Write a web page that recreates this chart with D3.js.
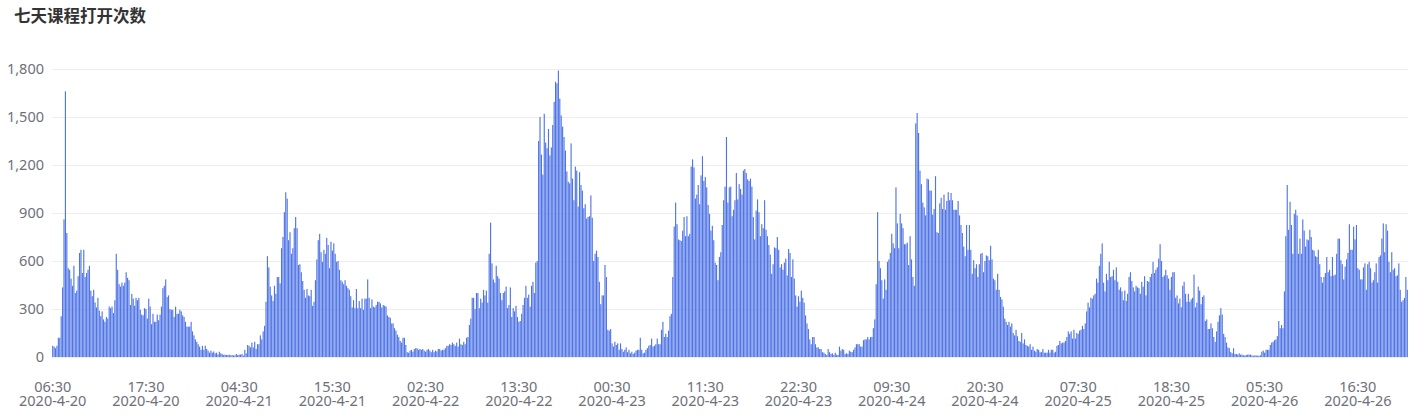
<!DOCTYPE html>
<html>
<head>
<meta charset="utf-8">
<script src="https://cdn.jsdelivr.net/npm/d3@7"></script>
<style>
  html, body { margin: 0; padding: 0; background: #fff; }
  svg { display: block; }
</style>
</head>
<body>
<svg id="chart" width="1409" height="416"></svg>
<script>
// ---- data ----
const chartTitle = "七天课程打开次数";
const startTime = "2020-04-20 06:30";   // first 10-minute slot
const slotMinutes = 10;
const yTicks = [0, 300, 600, 900, 1200, 1500, 1800];
const labelEvery = 66;                   // one axis label every 11 hours
const opens = [
  70,65,55,70,120,120,255,435,860,1660,
  775,555,545,490,445,570,400,415,505,650,
  670,525,670,500,525,545,570,415,380,420,
  340,310,370,290,255,285,235,220,250,240,
  315,305,315,275,355,645,545,455,440,465,
  445,465,530,495,480,325,395,365,320,370,
  355,370,295,265,260,305,300,240,365,315,
  205,270,220,220,265,230,265,315,430,445,
  485,375,385,300,295,295,250,315,270,270,
  295,285,260,250,220,190,190,190,220,160,
  135,110,95,80,65,45,70,45,70,50,
  40,27,40,27,35,23,27,15,33,23,
  19,12,15,12,12,15,10,12,10,10,
  19,12,15,15,19,8,45,23,75,70,
  60,90,60,95,50,80,80,135,110,160,
  195,345,630,560,440,385,350,445,395,500,
  500,460,680,750,905,1030,990,730,780,645,
  680,805,875,805,575,580,530,475,420,370,
  425,385,380,420,320,345,480,610,730,770,
  655,595,670,645,745,700,555,720,665,710,
  645,595,600,545,480,470,455,480,445,430,
  420,380,310,355,305,425,305,350,305,365,
  295,365,365,485,370,305,360,315,310,325,
  345,345,335,310,325,320,315,260,250,245,
  210,210,180,165,140,125,100,90,120,120,
  75,30,27,40,45,33,50,55,55,45,
  50,45,50,40,33,45,50,40,30,45,
  30,40,35,50,50,40,45,45,55,70,
  70,80,75,90,80,70,90,65,115,80,
  75,95,80,120,125,200,240,370,370,300,
  400,400,305,365,340,420,385,415,340,645,
  840,585,485,465,570,505,490,400,355,400,
  410,440,305,325,435,250,305,285,320,250,
  220,225,270,325,370,445,370,390,315,445,
  470,400,590,600,1350,1500,1265,1140,1520,1340,
  1305,1425,1260,1310,1450,1595,1720,1710,1790,1615,
  1510,1440,1375,1290,1160,1095,1085,1335,1115,980,
  1190,1165,940,1155,1075,1040,930,955,865,875,
  880,1010,870,600,645,665,625,470,330,385,
  385,575,500,170,165,175,85,65,95,75,
  85,45,85,50,33,45,60,30,45,23,
  33,19,27,40,45,45,120,45,23,27,
  45,55,70,75,115,65,70,80,115,80,
  80,170,220,125,145,125,165,255,270,500,
  815,965,830,735,730,725,790,875,755,880,
  755,770,1190,1235,1185,990,1015,1075,955,1135,
  1255,1100,1125,1060,950,895,790,820,730,590,
  575,480,625,655,825,980,1065,1375,965,1060,
  1065,880,920,980,1150,985,1080,1050,1015,1165,
  1175,1150,1110,1100,1115,1065,875,735,915,985,
  905,755,830,805,980,795,755,700,640,520,
  580,685,680,750,670,560,580,545,590,615,
  510,675,650,500,610,490,385,315,380,345,
  415,370,340,260,210,175,110,80,125,125,
  80,60,60,50,50,30,27,19,12,50,
  30,19,23,12,27,15,12,65,40,50,
  45,19,23,19,40,33,30,45,60,80,
  80,80,65,65,105,110,110,125,110,125,
  125,180,235,455,905,600,555,480,365,485,
  420,595,610,650,770,710,680,1060,835,680,
  895,835,805,705,705,715,575,755,610,500,
  445,1460,1525,1400,1165,1080,965,935,885,1115,
  1110,1040,1040,890,925,1130,780,775,960,995,
  925,1015,920,975,1030,980,1025,980,920,920,
  920,975,885,825,775,690,630,825,670,825,
  670,520,605,555,580,500,580,645,650,530,
  600,635,630,605,695,610,490,480,420,520,
  420,375,360,315,240,220,200,220,190,210,
  150,135,170,130,100,95,150,85,110,75,
  70,65,80,45,65,40,33,50,45,30,
  30,50,27,27,27,45,27,45,45,27,
  33,70,75,100,85,90,90,100,125,160,
  145,160,115,170,115,150,145,165,170,195,
  175,210,285,340,310,370,365,385,395,490,
  465,570,645,710,465,410,520,480,595,500,
  505,545,480,560,470,420,435,410,355,415,
  350,395,500,530,475,435,410,445,435,430,
  395,470,440,505,385,475,470,500,520,595,
  525,545,560,615,705,600,500,510,545,510,
  490,420,500,530,530,370,385,335,365,310,
  445,470,395,345,395,345,360,370,515,310,
  340,440,415,330,375,385,225,235,175,175,
  210,180,125,95,160,220,260,305,265,145,
  125,90,60,55,30,23,55,19,19,15,
  23,15,15,10,10,12,15,15,15,10,
  8,10,10,8,8,10,33,40,27,45,
  45,45,75,90,95,105,110,130,225,180,
  200,180,410,755,1075,795,970,825,645,895,
  920,885,645,740,645,860,790,690,735,730,
  795,750,670,665,630,625,670,580,500,465,
  500,525,625,530,545,505,625,510,515,645,
  740,740,605,580,485,565,610,650,830,670,
  670,815,735,825,555,545,485,485,560,585,
  420,580,595,555,465,480,530,585,465,625,
  635,740,835,655,830,790,595,530,655,545,
  555,505,510,585,420,345,355,370,500,420
];

// ---- categories (time slots) ----
const parse = d3.timeParse("%Y-%m-%d %H:%M");
const t0 = parse(startTime);
const slots = opens.map((v, i) => d3.timeMinute.offset(t0, i * slotMinutes));
const fmtTime = d3.timeFormat("%H:%M");
const fmtDate = d => `${d.getFullYear()}-${d.getMonth() + 1}-${d.getDate()}`;
const categories = slots.map(d => fmtTime(d) + "\n" + fmtDate(d));
const data = categories.map((c, i) => ({ cat: c, value: opens[i] }));

// ---- layout ----
const svg = d3.select("#chart");
const M = { left: 52, right: 1408, top: 69, bottom: 357 };

const x = d3.scaleBand()
  .domain(categories)
  .range([M.left, M.right])
  .paddingInner(0.2)
  .paddingOuter(0.1);

const y = d3.scaleLinear()
  .domain([yTicks[0], yTicks[yTicks.length - 1]])
  .range([M.bottom, M.top]);

// title
svg.append("text")
  .attr("x", 14)
  .attr("y", 22)
  .attr("font-family", "'Noto Sans CJK SC', 'Noto Sans', sans-serif")
  .attr("font-size", 16.5)
  .attr("font-weight", "bold")
  .attr("fill", "#333")
  .text(chartTitle);

// grid lines
svg.append("g")
  .selectAll("line")
  .data(yTicks)
  .join("line")
  .attr("x1", M.left)
  .attr("x2", M.right)
  .attr("y1", d => Math.round(y(d)) + 0.5)
  .attr("y2", d => Math.round(y(d)) + 0.5)
  .attr("stroke", "#eeeeee")
  .attr("stroke-width", 1);

// y axis
const yAxis = svg.append("g")
  .attr("transform", `translate(${M.left},0)`)
  .call(d3.axisLeft(y).tickValues(yTicks).tickFormat(d3.format(",")).tickSize(0).tickPadding(8));
yAxis.select(".domain").remove();
yAxis.selectAll("text")
  .attr("font-family", "'Noto Sans', sans-serif")
  .attr("font-size", 14.5)
  .attr("fill", "#6e7079");

// bars
svg.append("g")
  .selectAll("rect")
  .data(data)
  .join("rect")
  .attr("x", d => x(d.cat))
  .attr("width", x.bandwidth())
  .attr("y", d => y(d.value))
  .attr("height", d => y(0) - y(d.value))
  .attr("fill", "#4f74e6");

// x axis
const tickCats = categories.filter((c, i) => i % labelEvery === 0);
const xAxis = svg.append("g")
  .attr("transform", `translate(0,${M.bottom})`)
  .call(d3.axisBottom(x).tickValues(tickCats).tickSize(0).tickPadding(0));
xAxis.select(".domain").remove();
xAxis.selectAll("text")
  .attr("font-family", "'Noto Sans', sans-serif")
  .attr("font-size", 14.5)
  .attr("fill", "#6e7079")
  .attr("y", 0)
  .attr("dy", null)
  .each(function (d) {
    const parts = d.split("\n");
    const t = d3.select(this).text(null);
    t.append("tspan").attr("x", 0).attr("y", 35).text(parts[0]);
    t.append("tspan").attr("x", 0).attr("y", 49).text(parts[1]);
  });
</script>
</body>
</html>
